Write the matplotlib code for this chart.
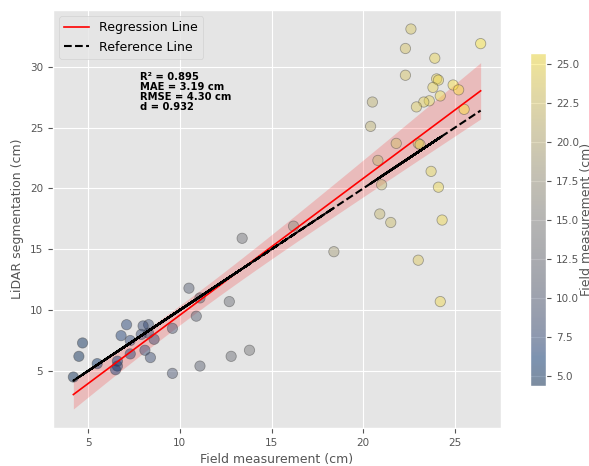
import numpy as np
import matplotlib.pyplot as plt

plt.style.use('ggplot')

# field measurement (x) and LiDAR segmentation (y), cm
field = [8.1, 4.5, 12.7, 6.6, 10.9, 4.2, 13.8, 7.3, 5.5, 11.1, 6.8, 13.4,
         4.7, 9.6, 8.3, 6.5, 12.8, 7.1, 10.5, 8.0, 18.4, 11.1, 7.9, 9.6,
         6.6, 16.2, 8.6, 7.3, 8.4, 8.3,
         22.6, 20.5, 24.0, 21.8, 23.9, 20.9, 24.1, 22.3, 23.0, 20.4, 24.3, 22.3,
         21.0, 23.8, 21.5, 24.2, 20.8, 23.6, 24.1, 23.3, 23.7, 22.9, 24.2, 23.0,
         23.1, 24.9, 25.2, 25.5, 26.4]
lidar = [6.7, 6.2, 10.7, 5.4, 9.5, 4.5, 6.7, 7.5, 5.6, 11.0, 7.9, 15.9,
         7.3, 8.5, 8.8, 5.1, 6.2, 8.8, 11.8, 8.7, 14.8, 5.4, 8.0, 4.8,
         5.8, 16.9, 7.6, 6.4, 6.1, 8.1,
         33.1, 27.1, 29.0, 23.7, 30.7, 17.9, 28.9, 31.5, 14.1, 25.1, 17.4, 29.3,
         20.3, 28.3, 17.2, 27.6, 22.3, 27.2, 20.1, 27.1, 21.4, 26.7, 10.7, 23.7,
         23.6, 28.5, 28.1, 26.5, 31.9]
stats_text = 'R² = 0.895\nMAE = 3.19 cm\nRMSE = 4.30 cm\nd = 0.932'

x = np.array(field)
y = np.array(lidar)

# regression line with 95% band (heteroscedasticity-robust)
slope, intercept = np.polyfit(x, y, 1)
xs = np.linspace(x.min(), x.max(), 100)
ys = slope * xs + intercept
n = len(x)
X = np.column_stack([np.ones(n), x])
resid = y - X @ np.array([intercept, slope])
bread = np.linalg.inv(X.T @ X)
cov = bread @ (X.T * resid**2) @ X @ bread * n / (n - 2)
Xs = np.column_stack([np.ones_like(xs), xs])
ci = 1.96 * np.sqrt(np.einsum('ij,jk,ik->i', Xs, cov, Xs))

fig = plt.figure(figsize=(5.89, 4.66), dpi=100)
ax = fig.add_axes([0.090, 0.0815, 0.7606, 0.897])
cax = fig.add_axes([0.900, 0.1717, 0.0272, 0.7146])

sc = ax.scatter(x, y, c=x, cmap='cividis', vmin=4.35, vmax=25.7, s=55,
                alpha=0.45, edgecolors='#444444', linewidths=0.6, zorder=3)
ax.plot(xs, ys, color='red', lw=1.2, label='Regression Line', zorder=4)
ax.fill_between(xs, ys - ci, ys + ci, color='red', alpha=0.18, lw=0, zorder=2)
ax.plot(x, x, 'k--', lw=1.5, label='Reference Line', zorder=5)

ax.set_xlabel('Field measurement (cm)', fontsize=9, color='#555555')
ax.set_ylabel('LiDAR segmentation (cm)', fontsize=9, color='#555555')
ax.tick_params(labelsize=7.5)
ax.legend(loc='upper left', fontsize=9)
ax.text(0.194, 0.851, stats_text, transform=ax.transAxes, fontsize=7.2,
        fontweight='bold', va='top', linespacing=1.0)

cb = fig.colorbar(sc, cax=cax)
cb.ax.tick_params(labelsize=7.5)
cb.set_label('Field measurement (cm)', fontsize=9, color='#555555')
cax.yaxis.set_label_coords(3.1, 0.5)

fig.savefig('out.png', dpi=100)
